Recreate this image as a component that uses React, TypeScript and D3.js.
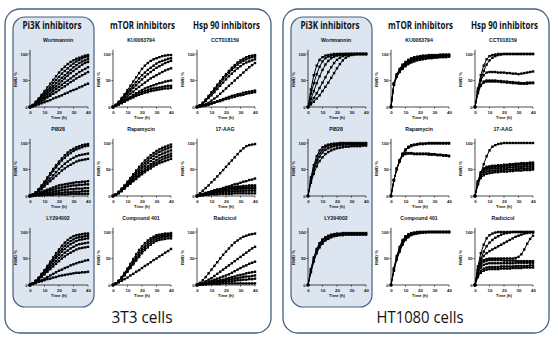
import React from "react";
import * as d3 from "d3";

// ---------- data ----------
const times = [0, 2, 4, 6, 8, 10, 12, 14, 16, 18, 20, 22, 24, 26, 28, 30, 32, 34, 36, 38, 40];
const xTicks = [0, 10, 20, 30, 40];
const yTicks = [0, 50, 100];
const groupTitles = ["Pi3K inhibitors", "mTOR inhibitors", "Hsp 90 inhibitors"];
const drugTitles = [
  ["Wortmannin", "PI828", "LY294002"],
  ["KU0063794", "Rapamycin", "Compound 401"],
  ["CCT018159", "17-AAG", "Radicicol"],
];
const cellLines = ["3T3 cells", "HT1080 cells"];

// 3T3 cells
const wortmannin3T3 = [
  [0, 4, 10, 16, 23, 30, 37, 44, 51, 58, 65, 71, 76, 81, 85, 88, 91, 93, 95, 97, 98],
  [0, 3, 8, 14, 20, 26, 32, 38, 45, 51, 57, 63, 68, 73, 78, 82, 86, 89, 92, 94, 95],
  [0, 3, 7, 12, 17, 23, 28, 34, 39, 45, 50, 55, 60, 65, 70, 75, 79, 83, 86, 88, 90],
  [0, 3, 6, 10, 15, 20, 25, 30, 35, 39, 44, 49, 54, 59, 64, 68, 72, 76, 80, 83, 85],
  [0, 2, 5, 9, 13, 17, 21, 25, 30, 34, 38, 42, 46, 50, 54, 58, 62, 66, 69, 72, 75],
  [0, 2, 4, 7, 11, 14, 18, 21, 25, 28, 32, 36, 39, 43, 47, 50, 54, 57, 60, 63, 66],
  [0, 1, 3, 5, 7, 9, 11, 13, 16, 18, 20, 22, 25, 27, 30, 32, 34, 37, 39, 42, 44],
];
const pi828_3T3 = [
  [0, 3, 7, 13, 20, 27, 35, 43, 51, 58, 65, 71, 77, 82, 86, 89, 92, 94, 96, 97, 98],
  [0, 3, 7, 12, 18, 25, 32, 40, 47, 54, 61, 67, 72, 77, 81, 85, 88, 90, 92, 94, 95],
  [0, 2, 6, 10, 15, 21, 27, 33, 39, 45, 51, 56, 61, 65, 69, 72, 75, 77, 78, 79, 80],
  [0, 2, 5, 9, 13, 18, 23, 28, 33, 38, 43, 48, 52, 56, 59, 62, 65, 67, 68, 69, 70],
  [0, 2, 4, 6, 8, 10, 12, 14, 16, 18, 20, 21, 22, 23, 24, 25, 26, 26, 27, 27, 28],
  [0, 1, 3, 5, 6, 8, 9, 11, 12, 14, 15, 16, 17, 18, 19, 20, 20, 21, 21, 22, 22],
  [0, 1, 2, 3, 4, 5, 6, 7, 8, 9, 10, 11, 12, 12, 13, 13, 14, 14, 14, 15, 15],
  [0, 1, 1, 2, 3, 3, 4, 4, 5, 5, 6, 6, 7, 7, 7, 8, 8, 8, 9, 9, 9],
  [0, 0, 1, 1, 1, 2, 2, 2, 2, 3, 3, 3, 3, 3, 4, 4, 4, 4, 4, 4, 4],
];
const ly294002_3T3 = [
  [0, 3, 8, 14, 21, 28, 36, 44, 52, 60, 67, 74, 80, 85, 89, 92, 94, 95, 96, 97, 97],
  [0, 3, 8, 13, 20, 26, 33, 41, 48, 55, 62, 68, 74, 79, 83, 86, 89, 90, 91, 92, 93],
  [0, 3, 7, 12, 18, 24, 31, 38, 45, 51, 57, 63, 68, 73, 77, 80, 83, 85, 86, 87, 88],
  [0, 3, 7, 11, 16, 22, 28, 34, 40, 45, 51, 56, 61, 65, 69, 72, 75, 77, 78, 79, 80],
  [0, 3, 6, 10, 15, 20, 25, 30, 35, 40, 45, 50, 54, 58, 61, 64, 67, 69, 70, 71, 72],
  [0, 2, 4, 7, 9, 12, 15, 18, 21, 24, 27, 29, 32, 34, 37, 39, 41, 43, 44, 46, 47],
  [0, 2, 4, 6, 7, 9, 11, 12, 14, 15, 17, 18, 19, 20, 21, 22, 23, 23, 24, 24, 25],
];
const ku0063794_3T3 = [
  [0, 4, 10, 17, 24, 32, 40, 48, 56, 64, 72, 78, 83, 87, 90, 92, 94, 96, 97, 98, 98],
  [0, 4, 9, 15, 21, 28, 34, 41, 47, 54, 60, 65, 70, 74, 78, 82, 85, 87, 89, 91, 92],
  [0, 3, 8, 13, 19, 25, 30, 36, 41, 47, 52, 57, 62, 66, 70, 74, 77, 80, 83, 85, 87],
  [0, 3, 7, 11, 16, 20, 25, 29, 34, 38, 42, 46, 50, 54, 57, 60, 63, 66, 69, 71, 73],
  [0, 3, 6, 9, 13, 16, 19, 23, 26, 29, 32, 35, 37, 39, 41, 43, 45, 46, 48, 49, 50],
  [0, 3, 5, 8, 11, 14, 17, 20, 23, 26, 28, 30, 32, 34, 35, 36, 37, 38, 39, 40, 40],
  [0, 2, 5, 7, 10, 13, 16, 18, 21, 23, 25, 27, 28, 30, 31, 32, 33, 34, 35, 35, 36],
];
const rapamycin3T3 = [
  [0, 3, 8, 14, 20, 27, 34, 41, 48, 55, 61, 67, 72, 77, 81, 85, 88, 91, 93, 95, 97],
  [0, 3, 7, 13, 19, 25, 31, 38, 44, 50, 56, 62, 67, 72, 76, 80, 83, 86, 88, 90, 92],
  [0, 3, 7, 12, 17, 23, 29, 35, 41, 46, 52, 57, 62, 66, 70, 74, 77, 80, 82, 84, 86],
  [0, 3, 6, 11, 16, 21, 27, 32, 37, 42, 47, 52, 56, 60, 64, 68, 71, 74, 76, 78, 80],
  [0, 2, 6, 10, 15, 20, 25, 30, 35, 39, 44, 48, 52, 56, 60, 63, 66, 69, 71, 73, 75],
  [0, 2, 5, 9, 14, 19, 23, 28, 32, 37, 41, 45, 49, 52, 56, 59, 62, 64, 66, 68, 70],
];
const compound401_3T3 = [
  [0, 3, 8, 15, 23, 31, 40, 49, 58, 66, 73, 79, 84, 88, 91, 94, 95, 96, 97, 97, 98],
  [0, 3, 8, 14, 21, 29, 37, 45, 53, 61, 68, 74, 80, 84, 88, 91, 92, 93, 94, 95, 95],
  [0, 3, 7, 13, 20, 27, 34, 42, 50, 57, 64, 70, 76, 80, 84, 87, 89, 90, 91, 92, 92],
  [0, 3, 7, 12, 18, 25, 32, 39, 46, 53, 60, 66, 71, 76, 80, 83, 85, 86, 87, 88, 88],
  [0, 2, 5, 8, 11, 14, 18, 21, 25, 28, 32, 36, 39, 43, 47, 50, 54, 57, 61, 64, 68],
];
const cct018159_3T3 = [
  [0, 3, 8, 14, 21, 28, 35, 42, 49, 56, 62, 68, 74, 79, 84, 88, 91, 94, 96, 97, 98],
  [0, 3, 7, 13, 19, 25, 32, 39, 45, 52, 58, 64, 70, 75, 80, 84, 87, 90, 92, 94, 95],
  [0, 3, 6, 11, 17, 22, 28, 34, 40, 46, 52, 58, 63, 68, 73, 77, 81, 84, 86, 88, 90],
  [0, 1, 3, 5, 8, 12, 16, 20, 25, 30, 35, 40, 45, 50, 55, 60, 65, 70, 75, 79, 83],
  [0, 1, 2, 3, 5, 7, 9, 11, 13, 15, 17, 19, 21, 22, 24, 25, 27, 28, 29, 30, 31],
  [0, 1, 2, 3, 4, 6, 8, 10, 11, 13, 15, 16, 18, 19, 21, 22, 23, 25, 26, 27, 28],
];
const aag17_3T3 = [
  [0, 5, 10, 15, 20, 26, 31, 37, 43, 49, 55, 61, 67, 73, 79, 85, 90, 94, 96, 97, 98],
  [0, 2, 3, 5, 7, 8, 10, 12, 13, 15, 17, 18, 20, 22, 23, 25, 27, 28, 30, 31, 33],
  [0, 2, 4, 6, 7, 9, 11, 12, 13, 14, 15, 16, 17, 17, 18, 18, 19, 19, 20, 20, 20],
  [0, 2, 3, 5, 6, 8, 9, 10, 11, 12, 13, 14, 14, 15, 15, 16, 16, 16, 17, 17, 17],
  [0, 1, 3, 4, 5, 6, 7, 8, 9, 10, 11, 11, 12, 12, 13, 13, 13, 14, 14, 14, 14],
  [0, 1, 2, 3, 4, 5, 5, 6, 7, 7, 8, 8, 8, 9, 9, 9, 9, 10, 10, 10, 10],
  [0, 1, 1, 2, 2, 3, 3, 3, 4, 4, 4, 4, 4, 5, 5, 5, 5, 5, 5, 5, 5],
];
const radicicol3T3 = [
  [0, 4, 9, 15, 22, 29, 36, 43, 50, 57, 63, 69, 75, 80, 84, 88, 91, 93, 95, 96, 97],
  [0, 2, 4, 7, 10, 13, 17, 21, 25, 29, 33, 37, 41, 45, 49, 53, 57, 61, 65, 69, 72],
  [0, 1, 3, 4, 6, 8, 10, 12, 14, 16, 18, 20, 23, 26, 29, 32, 35, 37, 40, 42, 44],
  [0, 1, 2, 3, 4, 5, 7, 8, 9, 10, 12, 13, 15, 16, 18, 19, 20, 22, 23, 24, 25],
  [0, 1, 2, 2, 3, 4, 5, 6, 7, 8, 9, 10, 11, 12, 13, 14, 15, 16, 16, 17, 18],
  [0, 1, 1, 2, 2, 3, 4, 4, 5, 6, 6, 7, 7, 8, 9, 9, 10, 10, 11, 11, 12],
  [0, 1, 1, 1, 2, 2, 2, 2, 2, 3, 3, 3, 3, 3, 3, 3, 3, 3, 3, 3, 3],
];

// HT1080 cells
const wortmanninHT = [
  [0, 33, 60, 78, 89, 94, 97, 98, 99, 100, 100, 100, 100, 100, 100, 100, 100, 100, 100, 100, 100],
  [0, 25, 45, 62, 76, 86, 92, 95, 97, 98, 99, 100, 100, 100, 100, 100, 100, 100, 100, 100, 100],
  [0, 15, 30, 45, 58, 70, 80, 87, 92, 95, 97, 98, 99, 100, 100, 100, 100, 100, 100, 100, 100],
  [0, 8, 17, 26, 36, 46, 56, 66, 75, 83, 89, 93, 96, 98, 99, 100, 100, 100, 100, 100, 100],
  [0, 5, 10, 16, 22, 30, 38, 46, 55, 64, 73, 81, 88, 93, 96, 98, 99, 100, 100, 100, 100],
];
const pi828HT = [
  [0, 35, 58, 75, 86, 92, 95, 97, 98, 99, 99, 100, 100, 100, 100, 100, 100, 100, 100, 100, 100],
  [0, 30, 52, 68, 80, 87, 92, 95, 96, 97, 98, 98, 99, 99, 99, 99, 99, 99, 99, 99, 99],
  [0, 28, 48, 63, 74, 82, 87, 90, 92, 94, 95, 96, 96, 97, 97, 97, 97, 97, 97, 97, 97],
  [0, 25, 42, 56, 66, 73, 79, 83, 86, 88, 90, 91, 92, 93, 93, 94, 94, 94, 94, 95, 95],
];
const ly294002HT = [
  [0, 30, 52, 68, 79, 86, 90, 93, 95, 96, 97, 97, 98, 98, 98, 98, 98, 98, 98, 98, 98],
  [0, 28, 50, 66, 77, 84, 89, 92, 94, 95, 96, 96, 97, 97, 97, 97, 97, 97, 97, 97, 97],
  [0, 26, 47, 63, 74, 81, 86, 89, 92, 93, 94, 95, 95, 96, 96, 96, 96, 96, 96, 96, 96],
  [0, 24, 44, 60, 71, 78, 84, 87, 90, 92, 93, 94, 94, 95, 95, 95, 95, 95, 95, 95, 95],
];
const ku0063794HT = [
  [0, 45, 62, 72, 80, 85, 89, 92, 94, 95, 96, 97, 97, 98, 98, 98, 98, 99, 99, 99, 99],
  [0, 44, 60, 70, 78, 83, 87, 90, 92, 93, 94, 95, 96, 96, 97, 97, 97, 97, 98, 98, 98],
  [0, 43, 59, 68, 76, 81, 85, 88, 90, 92, 93, 94, 94, 95, 95, 96, 96, 96, 96, 97, 97],
  [0, 42, 58, 67, 74, 79, 83, 86, 88, 90, 91, 92, 93, 93, 94, 94, 95, 95, 95, 96, 96],
  [0, 42, 57, 66, 72, 77, 81, 84, 86, 88, 89, 90, 91, 92, 92, 93, 93, 94, 94, 94, 95],
];
const rapamycinHT = [
  [0, 30, 52, 68, 80, 88, 93, 96, 97, 98, 99, 99, 99, 100, 100, 100, 100, 100, 100, 100, 100],
  [0, 30, 52, 67, 79, 86, 91, 94, 96, 97, 98, 98, 99, 99, 99, 99, 99, 99, 99, 99, 99],
  [0, 30, 51, 66, 78, 81, 81, 81, 80, 80, 80, 80, 80, 80, 79, 79, 78, 78, 77, 77, 76],
  [0, 29, 50, 65, 76, 79, 80, 80, 79, 79, 79, 79, 79, 78, 78, 78, 77, 77, 76, 76, 75],
];
const compound401HT = [
  [0, 32, 55, 72, 85, 92, 96, 98, 99, 100, 100, 100, 100, 100, 100, 100, 100, 100, 100, 100, 100],
  [0, 30, 52, 69, 82, 90, 94, 97, 98, 99, 100, 100, 100, 100, 100, 100, 100, 100, 100, 100, 100],
  [0, 28, 50, 66, 79, 87, 92, 95, 97, 98, 99, 99, 100, 100, 100, 100, 100, 100, 100, 100, 100],
  [0, 27, 48, 63, 76, 85, 90, 94, 96, 97, 98, 99, 99, 100, 100, 100, 100, 100, 100, 100, 100],
];
const cct018159HT = [
  [0, 35, 60, 78, 90, 96, 98, 99, 100, 100, 100, 100, 100, 100, 100, 100, 100, 100, 100, 100, 100],
  [0, 30, 52, 68, 80, 88, 93, 96, 98, 99, 100, 100, 100, 100, 100, 100, 100, 100, 100, 100, 100],
  [0, 30, 50, 60, 65, 66, 66, 66, 65, 65, 65, 64, 64, 63, 63, 62, 63, 64, 65, 66, 67],
  [0, 28, 42, 48, 50, 50, 50, 50, 49, 49, 48, 48, 47, 47, 46, 46, 45, 45, 46, 46, 46],
  [0, 26, 40, 46, 48, 48, 48, 48, 48, 47, 47, 46, 46, 45, 45, 44, 44, 44, 44, 45, 45],
];
const aag17HT = [
  [0, 22, 42, 60, 75, 86, 93, 96, 98, 99, 100, 100, 100, 100, 100, 100, 100, 100, 100, 100, 100],
  [0, 28, 45, 52, 55, 56, 57, 57, 58, 58, 59, 59, 60, 60, 61, 61, 62, 62, 62, 63, 63],
  [0, 27, 43, 50, 53, 54, 55, 55, 55, 56, 56, 57, 57, 58, 58, 59, 59, 59, 60, 60, 60],
  [0, 25, 40, 47, 50, 51, 52, 52, 52, 53, 53, 53, 54, 54, 55, 55, 55, 56, 56, 56, 57],
  [0, 24, 37, 43, 46, 47, 48, 48, 49, 49, 49, 50, 50, 50, 51, 51, 52, 52, 52, 53, 53],
  [0, 22, 34, 39, 42, 43, 44, 45, 45, 46, 46, 46, 47, 47, 48, 48, 48, 49, 49, 49, 50],
];
const radicicolHT = [
  [0, 35, 60, 76, 88, 94, 97, 99, 100, 100, 100, 100, 100, 100, 100, 100, 100, 100, 100, 100, 100],
  [0, 30, 50, 63, 73, 80, 85, 89, 92, 95, 97, 98, 99, 100, 100, 100, 100, 100, 100, 100, 100],
  [0, 28, 45, 55, 60, 64, 67, 70, 73, 76, 79, 82, 85, 88, 91, 93, 95, 97, 98, 99, 99],
  [0, 28, 42, 47, 49, 50, 50, 50, 50, 50, 50, 50, 50, 50, 51, 53, 58, 67, 78, 87, 93],
  [0, 25, 38, 44, 46, 47, 47, 47, 47, 47, 46, 46, 46, 46, 46, 45, 45, 45, 45, 45, 45],
  [0, 22, 33, 38, 40, 41, 41, 41, 41, 41, 41, 41, 41, 41, 42, 42, 42, 42, 42, 42, 42],
  [0, 18, 27, 31, 33, 34, 34, 34, 34, 35, 35, 35, 35, 35, 36, 36, 36, 36, 36, 37, 37],
  [0, 15, 23, 27, 29, 30, 30, 30, 30, 31, 31, 31, 31, 32, 32, 32, 32, 33, 33, 33, 33],
];

// [panel][column][row]
const panelData = [
  [
    [wortmannin3T3, pi828_3T3, ly294002_3T3],
    [ku0063794_3T3, rapamycin3T3, compound401_3T3],
    [cct018159_3T3, aag17_3T3, radicicol3T3],
  ],
  [
    [wortmanninHT, pi828HT, ly294002HT],
    [ku0063794HT, rapamycinHT, compound401HT],
    [cct018159HT, aag17HT, radicicolHT],
  ],
];

// ---------- layout ----------
const W = 558;
const H = 339;
const panelShift = 278;
const colX = [30, 113, 197];
const rowTop = [54, 143, 232];
const plotW = 58;
const plotH = 53;
const boxStroke = "#46607f";
const boxFill = "#dce5f0";
const smallFont = "'Liberation Sans', Arial, sans-serif";
const headFont = "'Open Sans', 'Noto Sans', sans-serif";

function SmallPlot({ x0, y0, title, curves }: { x0: number; y0: number; title: string; curves: number[][] }) {
  const xs = d3.scaleLinear().domain([0, 40]).range([x0, x0 + plotW]);
  const ys = d3.scaleLinear().domain([0, 100]).range([y0 + plotH, y0]);
  const line = d3
    .line<number>()
    .x((_, i) => xs(times[i]))
    .y((d) => ys(d));
  const ms = 2.4;
  return (
    <g>
      <text x={xs(20) - 1} y={y0 - 12} textAnchor="middle" fontFamily={smallFont} fontWeight="bold" fontSize={5.2} fill="#111">
        {title}
      </text>
      {curves.map((c, k) => (
        <g key={k}>
          <path d={line(c) || ""} fill="none" stroke="#000" strokeWidth={1} />
          {c.map((v, i) => (
            <rect key={i} x={xs(times[i]) - ms / 2} y={ys(v) - ms / 2} width={ms} height={ms} fill="#000" />
          ))}
        </g>
      ))}
      {/* y axis */}
      <line x1={x0} x2={x0} y1={ys(0)} y2={ys(108)} stroke="#000" strokeWidth={0.7} />
      {yTicks.map((t) => (
        <g key={t}>
          <line x1={x0 - 1.6} x2={x0} y1={ys(t)} y2={ys(t)} stroke="#000" strokeWidth={0.6} />
          <text x={x0 - 2.3} y={ys(t) + 1.5} textAnchor="end" fontFamily={smallFont} fontWeight="bold" fontSize={4.3} fill="#111">
            {t}
          </text>
        </g>
      ))}
      <text
        transform={`translate(${x0 - 13.5},${(ys(0) + ys(100)) / 2 - 1}) rotate(-90)`}
        textAnchor="middle"
        fontFamily={smallFont}
        fontWeight="bold"
        fontSize={4.2}
        fill="#111"
      >
        RWD %
      </text>
      {/* x axis */}
      <line x1={x0} x2={x0 + plotW} y1={ys(0)} y2={ys(0)} stroke="#000" strokeWidth={0.7} />
      {xTicks.map((t) => (
        <g key={t}>
          <line x1={xs(t)} x2={xs(t)} y1={ys(0)} y2={ys(0) + 1.6} stroke="#000" strokeWidth={0.6} />
          <text x={xs(t) + 0.5} y={ys(0) + 6.6} textAnchor="middle" fontFamily={smallFont} fontWeight="bold" fontSize={4.3} fill="#111">
            {t}
          </text>
        </g>
      ))}
      <text x={xs(20)} y={ys(0) + 12} textAnchor="middle" fontFamily={smallFont} fontWeight="bold" fontSize={4.1} fill="#111">
        Time (h)
      </text>
    </g>
  );
}

const headWidths = [59, 65, 67];
const headCenters = [52, 142.5, 226.5];
const cellWidths = [61, 87];

export default function App() {
  return (
    <svg width={W} height={H} viewBox={`0 0 ${W} ${H}`} style={{ position: "absolute", left: 0, top: 0, background: "#fff" }}>
      <rect x={0} y={0} width={W} height={H} fill="#fff" />
      {panelData.map((panel, p) => {
        const dx = p * panelShift;
        return (
          <g key={p}>
            <rect x={5 + dx} y={9} width={266} height={324} rx={15} ry={15} fill="#fff" stroke={boxStroke} strokeWidth={1.3} />
            <rect x={13 + dx} y={17} width={81} height={290} rx={12} ry={12} fill={boxFill} stroke={boxStroke} strokeWidth={1.2} />
            {groupTitles.map((g, c) => (
              <text
                key={g}
                x={headCenters[c] + dx}
                y={28.8}
                textAnchor="middle"
                fontFamily={headFont}
                fontWeight="bold"
                fontSize={10.5}
                textLength={headWidths[c]}
                lengthAdjust="spacingAndGlyphs"
                fill="#111"
              >
                {g}
              </text>
            ))}
            {panel.map((col, c) =>
              col.map((curves, r) => (
                <SmallPlot key={`${c}-${r}`} x0={colX[c] + dx} y0={rowTop[r]} title={drugTitles[c][r]} curves={curves} />
              ))
            )}
            <text
              x={142 + dx}
              y={323}
              textAnchor="middle"
              fontFamily={headFont}
              fontSize={16.5}
              textLength={cellWidths[p]}
              lengthAdjust="spacingAndGlyphs"
              fill="#111"
            >
              {cellLines[p]}
            </text>
          </g>
        );
      })}
    </svg>
  );
}
